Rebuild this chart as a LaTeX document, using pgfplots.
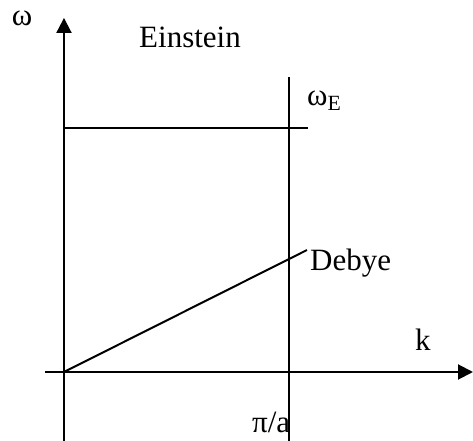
\documentclass[border=0pt]{standalone}
\usepackage{pgfplots}
\pgfplotsset{compat=1.18}
\usepackage{fontspec}
\setmainfont{Liberation Serif}
\usetikzlibrary{arrows.meta}
\tikzset{lbl/.style={inner sep=0pt, font=\fontsize{31bp}{37bp}\selectfont}}
\begin{document}
\begin{tikzpicture}
\begin{axis}[
  width=473bp, height=441bp, scale only axis,
  xmin=-0.2844, xmax=1.8178, ymin=-0.2828, ymax=1.5246,
  hide axis, clip=false,
]
\coordinate (sw) at (rel axis cs:0,0);
\coordinate (ne) at (rel axis cs:1,1);
% axes
\addplot[black, line width=2bp, -{Triangle[length=15bp,width=15bp]}] coordinates {(-0.0844,0) (1.8178,0)};
\addplot[black, line width=2bp, -{Triangle[length=15bp,width=15bp]}] coordinates {(0,-0.2828) (0,1.451)};
% zone boundary pi/a
\addplot[black, line width=2bp] coordinates {(1,-0.2828) (1,1.209)};
% Einstein
\addplot[black, line width=2bp] coordinates {(0,1) (1.084,1)};
% Debye
\addplot[black, line width=2bp] coordinates {(0,0) (1.08,0.5)};
\node[lbl, anchor=base] at (axis cs:-0.1867,1.422) {ω};
\node[lbl, anchor=base] at (axis cs:0.56,1.328) {Einstein};
\node[lbl, anchor=base west] at (axis cs:1.08,1.094) {ω\textsubscript{E}};
\node[lbl, anchor=base west] at (axis cs:1.093,0.418) {Debye};
\node[lbl, anchor=base west] at (axis cs:1.56,0.090) {k};
\node[lbl, anchor=base west] at (axis cs:0.8356,-0.25) {π/a};
\end{axis}
\pgfresetboundingbox
\path (sw) rectangle (ne);
\end{tikzpicture}
\end{document}
